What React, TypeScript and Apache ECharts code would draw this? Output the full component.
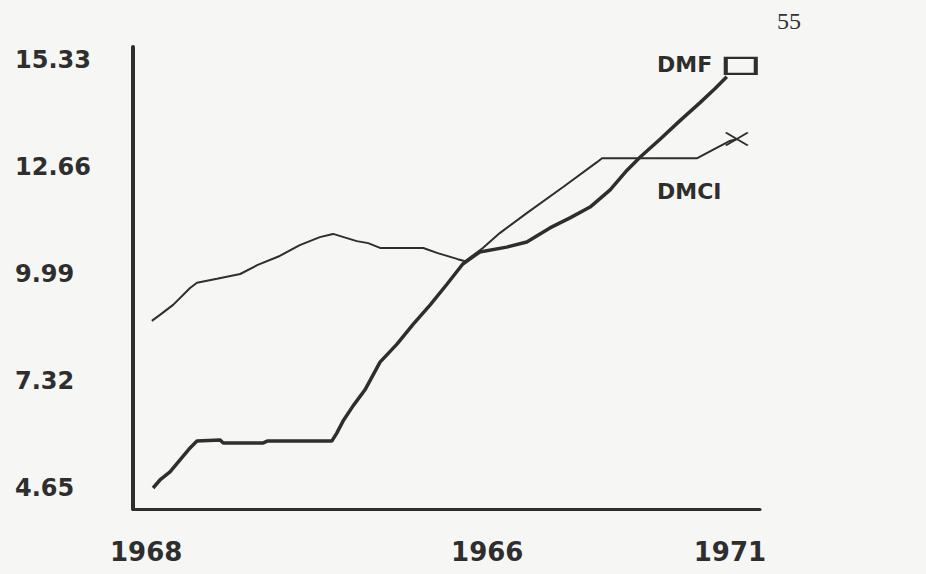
import React, { useEffect, useRef } from "react";
import * as echarts from "echarts";

// x position in "period" units (0..100 spans the horizontal axis)
const dmfT = [3.2, 4.3, 5.9, 7.5, 9.1, 10.2, 13.9, 14.4, 20.7, 21.4, 31.7, 32.5, 33.5, 35.1, 37.0, 39.4, 42.1, 44.7, 47.4, 50.1, 52.6, 55.3, 59.6, 62.8, 66.5, 69.7, 72.9, 76.1, 78.8, 80.9, 84.1, 87.2, 90.4, 92.8, 94.7];
const dmfValues = [4.65, 4.85, 5.05, 5.35, 5.65, 5.82, 5.85, 5.77, 5.77, 5.82, 5.82, 6.02, 6.32, 6.70, 7.10, 7.79, 8.24, 8.74, 9.22, 9.74, 10.24, 10.54, 10.66, 10.79, 11.14, 11.39, 11.66, 12.09, 12.58, 12.91, 13.36, 13.81, 14.26, 14.61, 14.91];

const dmciT = [3.0, 4.3, 6.4, 9.1, 10.2, 13.4, 17.1, 19.8, 23.4, 26.6, 29.8, 31.9, 35.7, 37.5, 39.4, 46.3, 48.6, 51.8, 53.0, 55.8, 58.5, 62.8, 68.6, 74.0, 74.8, 90.0, 92.4, 95.2, 96.3];
const dmciValues = [8.82, 8.97, 9.22, 9.64, 9.77, 9.87, 9.99, 10.21, 10.44, 10.71, 10.91, 10.99, 10.81, 10.76, 10.64, 10.64, 10.51, 10.36, 10.31, 10.64, 11.01, 11.51, 12.16, 12.78, 12.88, 12.88, 13.08, 13.31, 13.36];

const yTickValues = [4.65, 7.32, 9.99, 12.66, 15.33];
const xTickPositions = [2.1, 56.5, 95.2];
const xTickLabels = ["1968", "1966", "1971"];

const seriesNames = ["DMF", "DMCI"];
const pageNumber = "55";

const INK = "#2e2e2e";

export default function App() {
  const ref = useRef<HTMLDivElement>(null);

  useEffect(() => {
    document.body.style.margin = "0";
    const chart = echarts.init(ref.current!, null, { renderer: "svg" });

    const dmfData: any[] = dmfT.map((t, i) => [t, dmfValues[i]]);
    const lastDmf = dmfData.length - 1;
    dmfData[lastDmf] = {
      value: dmfData[lastDmf],
      symbol: "rect",
      symbolSize: [30, 16],
      symbolOffset: [14, -11],
      itemStyle: { color: "transparent", borderColor: INK, borderWidth: 3 },
    };

    const dmciData: any[] = dmciT.map((t, i) => [t, dmciValues[i]]);
    const lastDmci = dmciData.length - 1;
    dmciData[lastDmci] = {
      value: dmciData[lastDmci],
      symbol: "path://M0,0L10,6M10,0L0,6",
      symbolSize: [22, 13],
      itemStyle: { color: "transparent", borderColor: INK, borderWidth: 2 },
    };

    chart.setOption({
      animation: false,
      backgroundColor: "#f6f6f4",
      textStyle: { fontFamily: "DejaVu Sans" },
      grid: { left: 133, right: 166, top: 47, bottom: 65 },
      xAxis: {
        type: "value",
        min: 0,
        max: 100,
        splitLine: { show: false },
        axisTick: { show: false },
        axisLine: { show: true, lineStyle: { color: INK, width: 3 } },
        axisLabel: {
          customValues: xTickPositions,
          formatter: (v: number) => {
            const i = xTickPositions.findIndex((p) => Math.abs(p - v) < 1e-6);
            return i >= 0 ? xTickLabels[i] : "";
          },
          color: INK,
          fontWeight: "bold",
          fontSize: 26,
          fontFamily: "DejaVu Sans",
          verticalAlign: "middle",
          margin: 43,
        },
      },
      yAxis: {
        type: "value",
        min: 4.126,
        max: 15.654,
        splitLine: { show: false },
        axisTick: { show: false },
        axisLine: { show: true, lineStyle: { color: INK, width: 4 } },
        axisLabel: {
          customValues: yTickValues,
          formatter: (v: number) => v.toFixed(2),
          color: INK,
          fontWeight: "bold",
          fontSize: 24,
          fontFamily: "DejaVu Sans",
          align: "left",
          margin: 118,
        },
      },
      series: [
        {
          name: seriesNames[0],
          type: "line",
          data: dmfData,
          symbol: "none",
          showSymbol: true,
          lineStyle: { color: INK, width: 3.5 },
          itemStyle: { color: INK },
          z: 3,
        },
        {
          name: seriesNames[1],
          type: "line",
          data: dmciData,
          symbol: "none",
          showSymbol: true,
          lineStyle: { color: INK, width: 2 },
          itemStyle: { color: INK },
          z: 2,
        },
      ],
      graphic: [
        {
          type: "text",
          left: 657,
          top: 53,
          style: { text: seriesNames[0], fill: INK, font: "bold 22px 'DejaVu Sans'" },
        },
        {
          type: "text",
          left: 657,
          top: 180,
          style: { text: seriesNames[1], fill: INK, font: "bold 22px 'DejaVu Sans'" },
        },
        {
          type: "text",
          left: 777,
          top: 9,
          style: { text: pageNumber, fill: "#333", font: "24px 'Liberation Serif'" },
        },
      ],
    });

    return () => chart.dispose();
  }, []);

  return (
    <div
      ref={ref}
      style={{ position: "absolute", left: 0, top: 0, width: 926, height: 574 }}
    />
  );
}
